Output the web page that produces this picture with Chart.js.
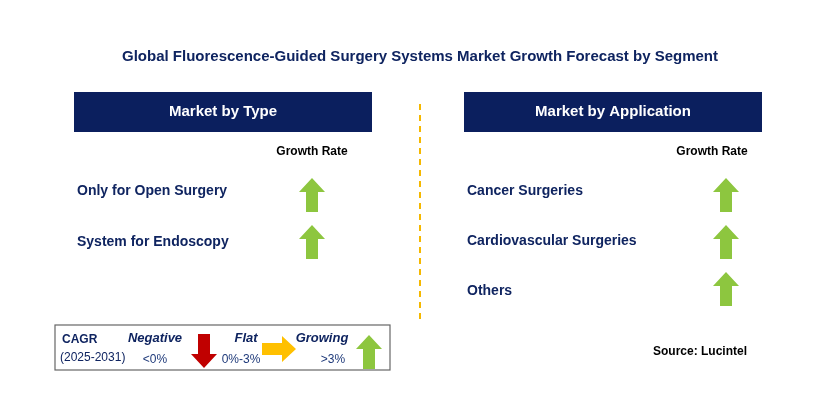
<!DOCTYPE html>
<html><head><meta charset="utf-8">
<script src="https://cdn.jsdelivr.net/npm/chart.js@4/dist/chart.umd.min.js"></script>
<style>html,body{margin:0;padding:0;background:#fff}#w{width:829px;height:420px}</style>
</head><body><div id="w"><canvas id="c"></canvas></div>
<script>
const typeSegments = ['Only for Open Surgery', 'System for Endoscopy'];
const typeGrowth = ['Growing', 'Growing'];
const appSegments = ['Cancer Surgeries', 'Cardiovascular Surgeries', 'Others'];
const appGrowth = ['Growing', 'Growing', 'Growing'];
const legendLabels = ['Negative', 'Flat', 'Growing'];
const legendRanges = ['<0%', '0%-3%', '>3%'];

const NAVY = '#0f2460', GREEN = '#8dc63f', RED = '#c00000', YEL = '#ffc000';
function arrowImg(dir, color) {
  const c = document.createElement('canvas');
  const w = dir === 'right' ? 34 : 26, h = dir === 'right' ? 26 : 34;
  c.width = w; c.height = h;
  const g = c.getContext('2d'); g.fillStyle = color; g.beginPath();
  if (dir === 'up') { g.moveTo(13,0); g.lineTo(26,14); g.lineTo(19,14); g.lineTo(19,34); g.lineTo(7,34); g.lineTo(7,14); g.lineTo(0,14); }
  else if (dir === 'down') { g.moveTo(13,34); g.lineTo(26,20); g.lineTo(19,20); g.lineTo(19,0); g.lineTo(7,0); g.lineTo(7,20); g.lineTo(0,20); }
  else { g.moveTo(34,13); g.lineTo(20,0); g.lineTo(20,7); g.lineTo(0,7); g.lineTo(0,19); g.lineTo(20,19); g.lineTo(20,26); }
  g.closePath(); g.fill(); return c;
}
const styleFor = {Growing: arrowImg('up', GREEN), Flat: arrowImg('right', YEL), Negative: arrowImg('down', RED)};
const rowY = i => 195 + i * 47;

const pts = [];
typeGrowth.forEach((g, i) => pts.push({x: 312, y: rowY(i), s: g}));
appGrowth.forEach((g, i) => pts.push({x: 726, y: rowY(i), s: g}));
const legPts = [{x: 204, y: 351, s: 'Negative'}, {x: 279, y: 349, s: 'Flat'}, {x: 369, y: 352, s: 'Growing'}];

const deco = {
  id: 'deco',
  beforeDatasetsDraw(ch) {
    const g = ch.ctx, X = v => ch.scales.x.getPixelForValue(v), Y = v => ch.scales.y.getPixelForValue(v);
    g.save();
    g.textBaseline = 'middle';
    g.fillStyle = NAVY; g.font = 'bold 15px Arial'; g.textAlign = 'center';
    g.fillText('Global Fluorescence-Guided Surgery Systems Market Growth Forecast by Segment', X(420), Y(57));
    [[74, 'Market by Type'], [464, 'Market by Application']].forEach(([x, t]) => {
      g.fillStyle = '#0b1f5e'; g.fillRect(X(x), Y(92), 298, 40);
      g.fillStyle = '#fff'; g.font = 'bold 15px Arial'; g.fillText(t, X(x + 149), Y(112));
    });
    g.strokeStyle = '#f5b800'; g.lineWidth = 2; g.setLineDash([6, 5]);
    g.beginPath(); g.moveTo(X(420), Y(104)); g.lineTo(X(420), Y(320)); g.stroke(); g.setLineDash([]);
    g.fillStyle = '#000'; g.font = 'bold 12px Arial';
    g.fillText('Growth Rate', X(312), Y(152)); g.fillText('Growth Rate', X(712), Y(152));
    g.textAlign = 'left'; g.fillStyle = NAVY; g.font = 'bold 14px Arial';
    typeSegments.forEach((t, i) => g.fillText(t, X(77), Y(191 + i * 51)));
    appSegments.forEach((t, i) => g.fillText(t, X(467), Y(191 + i * 50)));
    g.strokeStyle = '#666'; g.lineWidth = 1.2; g.strokeRect(X(55), Y(325), 335, 45);
    g.font = 'bold 12px Arial'; g.fillText('CAGR', X(62), Y(340));
    g.font = '12px Arial'; g.fillText('(2025-2031)', X(60), Y(358));
    g.textAlign = 'center'; g.font = 'bold italic 13px Arial';
    [155, 246, 322].forEach((x, i) => g.fillText(legendLabels[i], X(x), Y(338)));
    g.font = '12px Arial'; g.fillStyle = '#1f3a7a';
    [155, 241, 333].forEach((x, i) => g.fillText(legendRanges[i], X(x), Y(360)));
    g.fillStyle = '#000'; g.font = 'bold 12px Arial';
    g.fillText('Source: Lucintel', X(700), Y(352));
    g.restore();
  }
};

new Chart(document.getElementById('c'), {
  type: 'scatter',
  data: {datasets: [
    {data: pts, pointStyle: pts.map(p => styleFor[p.s]), radius: 12},
    {data: legPts, pointStyle: legPts.map(p => styleFor[p.s]), radius: 12}
  ]},
  options: {
    responsive: true, maintainAspectRatio: false, animation: false,
    layout: {padding: 0, autoPadding: false},
    plugins: {legend: {display: false}, tooltip: {enabled: false}},
    scales: {x: {type: 'linear', min: 0, max: 829, display: false}, y: {type: 'linear', min: 0, max: 420, reverse: true, display: false}}
  },
  plugins: [deco]
});
</script></body></html>
